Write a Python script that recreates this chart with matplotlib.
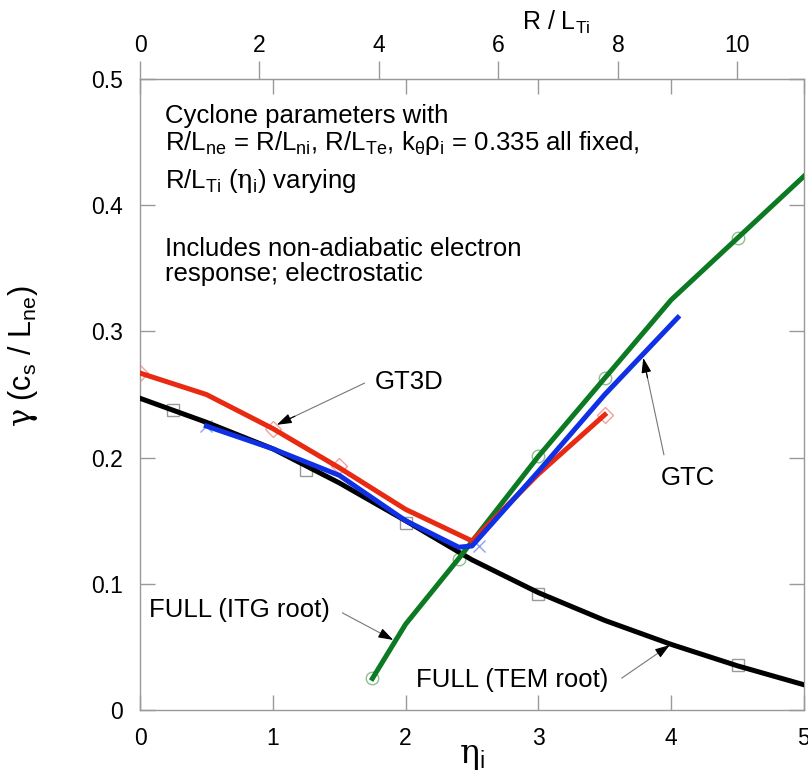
import numpy as np
import matplotlib
matplotlib.use("Agg")
import matplotlib.pyplot as plt

plt.rcParams['font.family'] = ['Liberation Sans', 'DejaVu Sans']
plt.rcParams['mathtext.fontset'] = 'custom'
plt.rcParams['mathtext.rm'] = 'Liberation Sans'
plt.rcParams['mathtext.it'] = 'Liberation Sans'
plt.rcParams['mathtext.sf'] = 'DejaVu Serif'  # used for the greek letters

# FULL (TEM root) - black curve and its square markers
tem_eta = [0, 0.5, 1, 1.5, 2, 2.5, 3, 3.5, 4, 4.5, 5]
tem_gamma = [0.247, 0.228, 0.207, 0.180, 0.150, 0.119, 0.093, 0.071, 0.052, 0.035, 0.020]
tem_mark_eta = [0.25, 1.25, 2.0, 3.0, 4.5]
tem_mark_gamma = [0.238, 0.190, 0.148, 0.092, 0.036]

# FULL (ITG root) - green
itg_eta = [1.75, 2.0, 2.4, 3.0, 3.5, 4.0, 4.5, 5.0]
itg_gamma = [0.025, 0.068, 0.120, 0.201, 0.263, 0.325, 0.374, 0.423]
itg_mark_eta = [1.75, 2.4, 3.0, 3.5, 4.5]
itg_mark_gamma = [0.025, 0.120, 0.201, 0.263, 0.374]

# GT3D - red
gt3d_eta = [0, 0.5, 1, 1.5, 2, 2.5, 3, 3.5]
gt3d_gamma = [0.267, 0.250, 0.223, 0.192, 0.159, 0.134, 0.187, 0.234]
gt3d_mark_eta = [0, 1, 1.5, 3.5]
gt3d_mark_gamma = [0.267, 0.223, 0.193, 0.234]

# GTC - blue
gtc_eta = [0.5, 1, 1.5, 2, 2.4, 2.5, 3, 3.5, 4.05]
gtc_gamma = [0.225, 0.207, 0.186, 0.150, 0.129, 0.130, 0.189, 0.250, 0.311]
gtc_mark_eta = [0.5, 2.55]
gtc_mark_gamma = [0.225, 0.130]

x_ticks = [0, 1, 2, 3, 4, 5]
y_ticks = [0, 0.1, 0.2, 0.3, 0.4, 0.5]
y_ticklabels = ['0', '0.1', '0.2', '0.3', '0.4', '0.5']
top_ticks = [0, 2, 4, 6, 8, 10]
R_over_Ln = 2.223  # R/L_Ti = eta_i * R/L_n

fig = plt.figure(figsize=(8.08, 7.71), dpi=100)
ax = fig.add_axes([0.1733, 0.0791, 0.8217, 0.8184])

# faint markers underneath the thick lines
ax.plot(tem_mark_eta, tem_mark_gamma, ls='none', marker='s', ms=9, mfc='none', mec='#999999', mew=1.0, zorder=2)
ax.plot(itg_mark_eta, itg_mark_gamma, ls='none', marker='o', ms=9, mfc='none', mec='#8fbf8f', mew=1.0, zorder=2)
ax.plot(gt3d_mark_eta, gt3d_mark_gamma, ls='none', marker='D', ms=8, mfc='none', mec='#f4a0a0', mew=1.0, zorder=2)
ax.plot(gtc_mark_eta, gtc_mark_gamma, ls='none', marker='x', ms=9, mec='#8f9ff0', mew=1.0, zorder=2)

lw = 3.6
ax.plot(tem_eta, tem_gamma, color='black', lw=lw, zorder=3)
ax.plot(itg_eta, itg_gamma, color='#0b7a22', lw=lw, zorder=3)
ax.plot(gt3d_eta, gt3d_gamma, color='#e82a12', lw=lw, zorder=4)
ax.plot(gtc_eta, gtc_gamma, color='#1030e6', lw=lw, zorder=5)

ax.set_xlim(0, 5)
ax.set_ylim(0, 0.5)
ax.set_xticks(x_ticks)
ax.set_yticks(y_ticks)
ax.set_yticklabels(y_ticklabels)
ax.tick_params(direction='in', length=11, width=1, color='#999999', labelsize=16.5,
               top=True, right=True, labeltop=False, pad=12)
for s in ax.spines.values():
    s.set_color('#999999')
    s.set_linewidth(1.0)

top = ax.secondary_xaxis('top', functions=(lambda e: e * R_over_Ln, lambda r: r / R_over_Ln))
top.set_xticks(top_ticks)
top.tick_params(direction='out', length=13, width=1, color='#999999', labelsize=16.5, pad=3)
top.spines['top'].set_color('#999999')
fig.text(0.688, 0.971, r'R / $\mathregular{L_{Ti}}$', fontsize=18, ha='center', va='center')

ax.set_xlabel(r'$\mathsf{\eta}_\mathregular{i}$', fontsize=24, labelpad=-6)
ax.set_ylabel(r'$\mathsf{\gamma}\ \mathregular{(c_s\ /\ L_{ne})}$', fontsize=22)
ax.yaxis.set_label_coords(-0.15, 0.56)

fs = 18.5
tx = 0.19
ax.text(tx, 0.465, 'Cyclone parameters with', fontsize=fs, va='baseline')
ax.text(tx, 0.444, r'$\mathregular{R/L_{ne}}$ = $\mathregular{R/L_{ni}}$, $\mathregular{R/L_{Te}}$, '
        r'$\mathregular{k_\theta\rho_i}$ = 0.335 all fixed,', fontsize=fs, va='baseline')
ax.text(tx, 0.4135, r'$\mathregular{R/L_{Ti}}$ ($\mathsf{\eta}_\mathregular{i}$) varying', fontsize=fs, va='baseline')
ax.text(tx, 0.360, 'Includes non-adiabatic electron', fontsize=fs, va='baseline')
ax.text(tx, 0.340, 'response; electrostatic', fontsize=fs, va='baseline')


def pointer(label, xy, tail, text_xy, ha='left'):
    ax.text(text_xy[0], text_xy[1], label, fontsize=fs, ha=ha, va='center', zorder=6)
    ax.annotate('', xy=xy, xytext=tail,
                arrowprops=dict(arrowstyle='-', color='#777777', lw=0.8), zorder=6)
    ax.annotate('', xy=xy, xytext=(xy[0] + (tail[0] - xy[0]) * 0.2, xy[1] + (tail[1] - xy[1]) * 0.2),
                arrowprops=dict(arrowstyle='-|>,head_length=0.9,head_width=0.3', color='black', lw=0.8,
                                shrinkA=0, shrinkB=0), zorder=6)


pointer('GT3D', (1.03, 0.226), (1.71, 0.260), (1.77, 0.260))
pointer('GTC', (3.79, 0.279), (3.95, 0.200), (3.92, 0.184))
pointer('FULL (ITG root)', (1.907, 0.0555), (1.506, 0.078), (0.068, 0.079))
pointer('FULL (TEM root)', (3.99, 0.0515), (3.61, 0.024), (2.08, 0.024))

fig.savefig('out.png', dpi=100)
